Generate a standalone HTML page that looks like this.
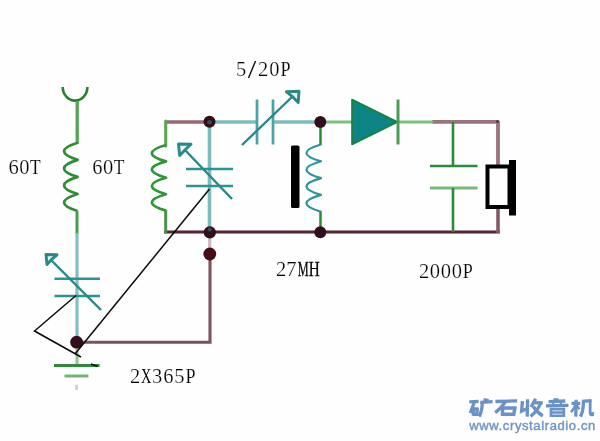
<!DOCTYPE html>
<html>
<head>
<meta charset="utf-8">
<title>Crystal radio schematic</title>
<style>
html,body{margin:0;padding:0;background:#fefefe;}
body{width:600px;height:441px;overflow:hidden;font-family:"Liberation Sans",sans-serif;}
svg{display:block;}
.lbl text{font-family:"Liberation Serif",serif;font-size:20.5px;fill:#000;text-anchor:middle;stroke:#fefefe;stroke-width:0.22px;}
.lbl text.k{stroke:#000;stroke-width:0.3px;}
.lbl text.m{stroke-width:0.14px;}
.lbl text.n{stroke:none;}
.url{font-family:"Liberation Sans",sans-serif;font-weight:normal;font-size:13px;fill:#6f96c8;stroke:#6f96c8;stroke-width:0.45px;}
</style>
</head>
<body>
<svg width="600" height="441" viewBox="0 0 600 441">
<defs><filter id="sf" x="0" y="0" width="600" height="441" filterUnits="userSpaceOnUse"><feGaussianBlur stdDeviation="0.5"/></filter></defs>
<rect x="0" y="0" width="600" height="441" fill="#fefefe"/>

<g filter="url(#sf)">
<!-- ===== maroon wires ===== -->
<g fill="none" stroke-linecap="butt">
  <!-- bottom rail -->
  <path d="M164,232 H499.8" stroke="#532631" stroke-width="2.9"/>
  <!-- top-left rail coil -> dot -->
  <path d="M166,122 H209" stroke="#9a6872" stroke-width="3.6"/>
  <!-- top right: diode wire -> speaker -->
  <path d="M432,121.8 H498 V165" stroke="#9c727c" stroke-width="3.8" stroke-linejoin="round"/>
  <circle cx="497.5" cy="121.5" r="1.6" fill="#5a3a44"/>
  <!-- speaker -> bottom rail -->
  <path d="M498,209 V233" stroke="#845a66" stroke-width="3.6"/>
  <!-- lower-left loop -->
  <path d="M209.7,238 V249" stroke="#d2b8be" stroke-width="3.2"/>
  <path d="M210,256 V342.2 H77" stroke="#7d525e" stroke-width="3.1" stroke-linejoin="miter"/>
</g>

<!-- ===== green parts ===== -->
<g fill="none">
  <!-- antenna -->
  <path d="M62.7,87 a12.35,13.6 0 0,0 24.7,0" stroke="#2b8032" stroke-width="2.6"/>
  <path d="M77.2,101 V144" stroke="#54a456" stroke-width="3.3"/>
  <!-- left coil -->
  <path d="M77.6,142.8 C59.51,148.43 59.51,154.22 77.6,159.85 C59.51,165.48 59.51,171.27 77.6,176.90 C59.51,182.53 59.51,188.32 77.6,193.95 C59.51,199.58 59.51,205.37 77.6,211.00" stroke="#2d8c34" stroke-width="2.7" stroke-linejoin="round"/>
  <path d="M77,211 V234" stroke="#4a9c50" stroke-width="3"/>
  <!-- tank coil -->
  <path d="M165.7,121 V146" stroke="#5aa655" stroke-width="3.1" stroke-linecap="round"/>
  <path d="M166,145.0 C147.11,150.41 147.11,155.99 166,161.40 C147.11,166.81 147.11,172.39 166,177.80 C147.11,183.21 147.11,188.79 166,194.20 C147.11,199.61 147.11,205.19 166,210.60" stroke="#2f9636" stroke-width="2.7" stroke-linejoin="round"/>
  <path d="M165.7,210 V233.3" stroke="#44954a" stroke-width="3"/>
  <!-- dot -> diode wire, diode -> cap -->
  <path d="M320,122 H353" stroke="#7cc07c" stroke-width="3"/>
  <path d="M398,122 H433" stroke="#7cc07c" stroke-width="3"/>
  <!-- 27MH coil leads -->
  <path d="M320.5,122 V145" stroke="#2e8a32" stroke-width="2.5"/>
  <path d="M320.5,211 V232" stroke="#2e8a32" stroke-width="2.5"/>
  <!-- right capacitor -->
  <path d="M453,122 V166" stroke="#2e8a3a" stroke-width="2.6"/>
  <path d="M430,166 H477.5" stroke="#2e8a3a" stroke-width="2.6"/>
  <path d="M430,188 H477.5" stroke="#7cb87c" stroke-width="3.2"/>
  <path d="M453,188 V232" stroke="#2e8a3a" stroke-width="2.6"/>
  <!-- ground -->
  <path d="M77,348 V365" stroke="#8cc88c" stroke-width="3"/>
  <path d="M54,365.5 H99.5" stroke="#2e8b3e" stroke-width="3"/>
  <path d="M64.5,376 H88.5" stroke="#72b676" stroke-width="3"/>
  <path d="M76.6,384.8 V390" stroke="#c4d6c4" stroke-width="2.6"/>
</g>

<!-- ===== teal parts ===== -->
<g fill="none">
  <!-- left variable cap -->
  <path d="M77,233 V342" stroke="#82bcc4" stroke-width="3.1"/>
  <path d="M54.5,278.8 H100" stroke="#2c9494" stroke-width="2.6"/>
  <path d="M54.5,296 H100" stroke="#2c9494" stroke-width="2.6"/>
  <path d="M101,310 L51,260" stroke="#268888" stroke-width="2.4"/>
  <path d="M46,254.5 L57,254.8 L51.2,259.8 L47,264.5 Z" stroke="#2a8888" stroke-width="2.9" stroke-linejoin="round" fill="#e6f4f4"/>
  <!-- centre variable cap -->
  <path d="M209.5,122 V232" stroke="#7cbcbc" stroke-width="3.6"/>
  <path d="M186,169 H233" stroke="#2c9494" stroke-width="2.6"/>
  <path d="M186,186 H233" stroke="#2c9494" stroke-width="2.6"/>
  <path d="M232,199 L185,150" stroke="#268888" stroke-width="2.4"/>
  <path d="M178.5,144 L191,144.3 L185.2,149.8 L179.7,155.5 Z" stroke="#2a8888" stroke-width="2.9" stroke-linejoin="round" fill="#e6f4f4"/>
  <!-- top 5/20P cap -->
  <path d="M209.5,122 H257" stroke="#7cbcbc" stroke-width="3.6"/>
  <path d="M273,122 H320" stroke="#7cbcbc" stroke-width="3.6"/>
  <path d="M257,99.5 V144.5" stroke="#4aa2a4" stroke-width="2.7"/>
  <path d="M273,99.5 V144.5" stroke="#4aa2a4" stroke-width="2.7"/>
  <path d="M242,145 L292.5,96.5" stroke="#268888" stroke-width="2.4"/>
  <path d="M299,91.2 L286.3,91.6 L292.4,96.6 L298.2,102.5 Z" stroke="#2a8888" stroke-width="2.9" stroke-linejoin="round" fill="#e6f4f4"/>
  <!-- 27MH coil -->
  <path d="M321,144.5 C301.58,150.04 301.58,155.76 321,161.30 C301.58,166.84 301.58,172.56 321,178.10 C301.58,183.64 301.58,189.36 321,194.90 C301.58,200.44 301.58,206.16 321,211.70" stroke="#2a949c" stroke-width="2.2" stroke-linejoin="round"/>
</g>

<!-- diode -->
<polygon points="352,99.5 397.5,122 352,144.5" fill="#0f8484" stroke="#158038" stroke-width="1.6" stroke-linejoin="round"/>
<path d="M398,99.5 V144.5" stroke="#4a9c54" stroke-width="3" fill="none"/>

<!-- black bar (core) -->
<rect x="291" y="145.5" width="8.5" height="62.5" rx="1.5" fill="#050505"/>

<!-- speaker -->
<rect x="487.5" y="166.5" width="22" height="40.5" fill="#fefefe" stroke="#050505" stroke-width="4"/>
<rect x="509" y="160" width="7" height="55.5" fill="#050505"/>

<!-- junction dots -->
<g fill="#30101a">
  <circle cx="209.5" cy="121.8" r="6"/>
  <circle cx="320.3" cy="122" r="6"/>
  <circle cx="209.8" cy="232.4" r="6.1"/>
  <circle cx="320.3" cy="232.2" r="6"/>
  <circle cx="209.8" cy="254" r="6.4" fill="#470c17"/>
  <circle cx="76.6" cy="342.2" r="6.4"/>
</g>
<g fill="#5a9a9c" opacity="0.42"><circle cx="209.6" cy="122.2" r="2.3"/><circle cx="209.8" cy="229.5" r="2"/></g>

</g>
<!-- black annotation lines -->
<g fill="none" stroke="#0a0a0a" stroke-width="1.5">
  <path d="M76,295.5 L34.5,331 L81,357"/>
  <path d="M91,364 L97.5,366.5"/>
  <path d="M209.5,189 L75,354"/>
</g>

<!-- labels -->
<g class="lbl" opacity="0.99">
  <text transform="translate(13.50,174) scale(1.0,1)">6</text>
  <text transform="translate(24.40,174) scale(1.0,1)">0</text>
  <text class="m" transform="translate(35.30,174) scale(0.85,1)">T</text>
  <text transform="translate(97.40,174) scale(1.0,1)">6</text>
  <text transform="translate(108.20,174) scale(1.0,1)">0</text>
  <text class="m" transform="translate(119.00,174) scale(0.85,1)">T</text>
  <text transform="translate(241.00,76) scale(1.0,1)">5</text>
  <text class="n" transform="translate(252.10,78.2) scale(1.5,1.27)">/</text>
  <text transform="translate(263.20,76) scale(1.0,1)">2</text>
  <text transform="translate(274.30,76) scale(1.0,1)">0</text>
  <text class="m" transform="translate(285.40,76) scale(0.88,1)">P</text>
  <text transform="translate(281.00,276) scale(1.0,1)">2</text>
  <text transform="translate(291.27,276) scale(1.0,1)">7</text>
  <text class="k" transform="translate(303.14,276) scale(0.6,1)">M</text>
  <text class="k" transform="translate(314.21,276) scale(0.74,1)">H</text>
  <text transform="translate(424.00,278) scale(1.0,1)">2</text>
  <text transform="translate(434.95,278) scale(1.0,1)">0</text>
  <text transform="translate(445.90,278) scale(1.0,1)">0</text>
  <text transform="translate(456.85,278) scale(1.0,1)">0</text>
  <text class="m" transform="translate(467.80,278) scale(0.88,1)">P</text>
  <text transform="translate(135.00,383) scale(1.0,1)">2</text>
  <text class="n" transform="translate(146.10,383) scale(0.7,1)">X</text>
  <text transform="translate(157.20,383) scale(1.0,1)">3</text>
  <text transform="translate(168.30,383) scale(1.0,1)">6</text>
  <text transform="translate(179.40,383) scale(1.0,1)">5</text>
  <text class="m" transform="translate(190.50,383) scale(0.88,1)">P</text>
</g>

<!-- watermark -->
<defs><filter id="bl" x="-5%" y="-20%" width="110%" height="140%"><feGaussianBlur stdDeviation="0.45"/></filter></defs>
<g filter="url(#bl)">
<g fill="none" stroke="#6a92c7" stroke-width="3.3" stroke-linecap="butt" stroke-linejoin="miter">
  <!-- kuang -->
  <path d="M469.3,401.8 L478.6,401.3"/>
  <path d="M474.6,401.6 L470.2,413"/>
  <path d="M473.5,408.3 L473.3,415.5 M472.5,408.8 H478.4 M477.3,408 L476.9,415.5 M472.5,414.3 H478"/>
  <path d="M483.5,399.6 L488.6,400.6"/>
  <path d="M480.3,402.4 L492.6,401.6"/>
  <path d="M482.2,402 Q482.4,410 479.3,416.6"/>
  <!-- shi -->
  <path d="M495.4,401.5 L517.2,400.9"/>
  <path d="M505.2,402 Q501,408.5 495.2,412.6"/>
  <path d="M502.5,406.8 V415.8 M501,407.9 H516.6 M515.2,407 L513.4,415.8 M501,414.3 H514.6" stroke-width="3.5"/>
  <!-- shou -->
  <path d="M522.4,401.2 L521.6,411.2 L527,408.8"/>
  <path d="M527.6,399.3 L527.2,416.6"/>
  <path d="M535.6,398.8 L531,407"/>
  <path d="M533.2,402.8 H542.8"/>
  <path d="M540.6,403 Q538,410.5 530.6,416.4"/>
  <path d="M533.2,406.4 Q536.5,412 542.8,416"/>
  <!-- yin -->
  <path d="M553.6,399 L558.6,399.6" stroke-width="2.2"/>
  <path d="M548.6,401.6 L565.2,401"/>
  <path d="M553,402.5 L553.6,405 M561.2,402.2 L560.4,405" stroke-width="2.2"/>
  <path d="M546,405.9 L568.4,405.3"/>
  <path d="M551,408.2 V416.8 M549.6,409.1 H565.2 M563.9,408.2 V416.8 M549.6,412.5 H565.2 M549.6,415.7 H565.2" stroke-width="2.6"/>
  <!-- ji -->
  <path d="M571.5,403.4 H580.2"/>
  <path d="M576.1,399.8 L575.8,416.6"/>
  <path d="M575.6,404.8 Q574,409 571,412.2" stroke-width="2.6"/>
  <path d="M576.6,405.2 L579.4,409.2" stroke-width="2.4"/>
  <path d="M583.4,400.6 Q583.6,411 580.4,416.6"/>
  <path d="M582,401.3 L591.6,400.7"/>
  <path d="M590.2,400.4 L590.1,412.8 Q590.2,415.3 592.6,414.8 L592.9,412.2" stroke-width="2.8"/>
</g>
<text class="url" x="469.3" y="429.8" textLength="126" lengthAdjust="spacing">www.crystalradio.cn</text>
</g>
</svg>
</body>
</html>
